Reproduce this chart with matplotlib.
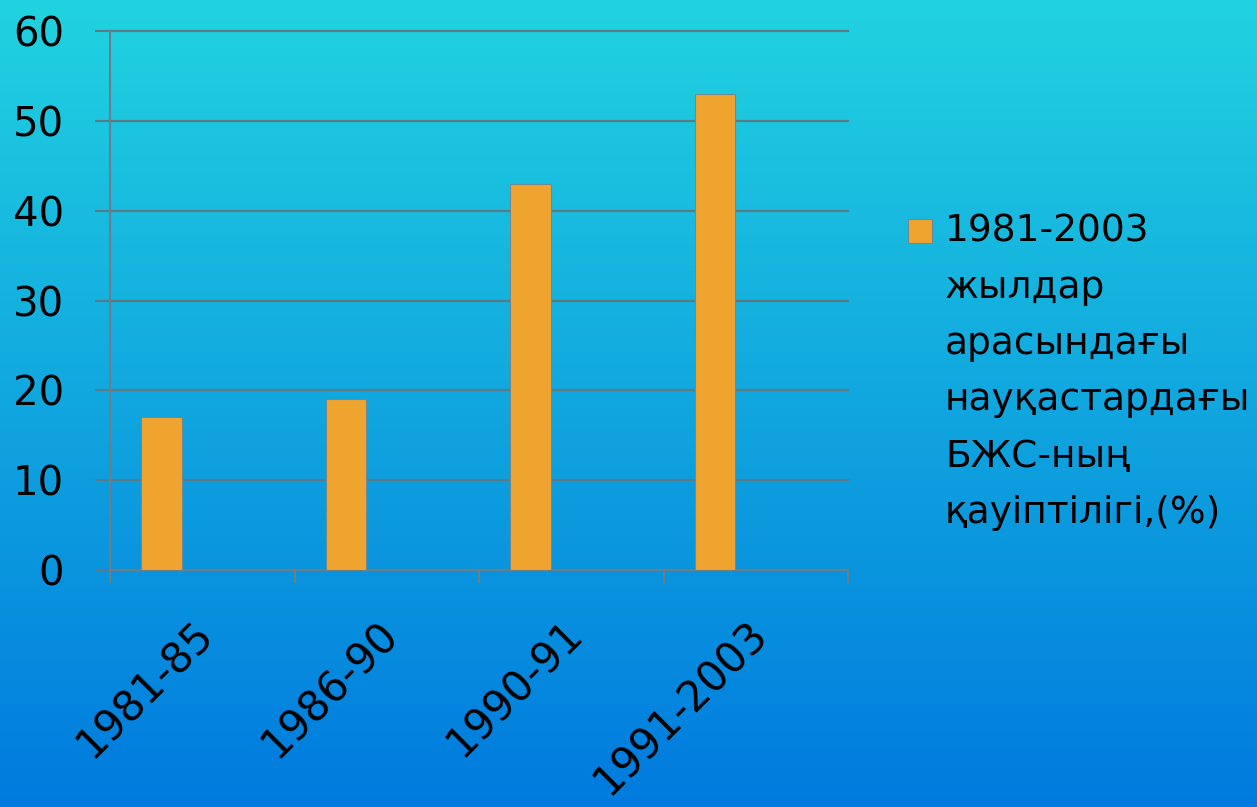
import matplotlib
matplotlib.use("Agg")
import matplotlib.pyplot as plt
import matplotlib.transforms as mtransforms
import numpy as np
from matplotlib.patches import Rectangle

# data
periods = ["1981-85", "1986-90", "1990-91", "1991-2003"]
risk_pct = [17, 19, 43, 53]
series_label = "1981-2003\nжылдар\nарасындағы\nнауқастардағы\nБЖС-ның\nқауіптілігі,(%)"

W, H = 1257, 807
fig = plt.figure(figsize=(W / 100, H / 100), dpi=100)
plt.rcParams['font.family'] = ['DejaVu Sans']

# gradient background (cyan at top -> blue at bottom)
bg = fig.add_axes([0, 0, 1, 1], zorder=-10)
top = np.array([33, 211, 224]) / 255
bottom = np.array([0, 122, 222]) / 255
t = np.linspace(0, 1, 256)[:, None]
grad = top * (1 - t) + bottom * t
bg.imshow(grad[:, None, :], aspect='auto', extent=[0, 1, 0, 1])
bg.axis('off')

ax = fig.add_axes([110 / W, 1 - 570 / H, (848 - 110) / W, (570 - 31) / H])
ax.set_facecolor('none')

x = np.arange(len(periods))
ax.bar(x - 0.22, risk_pct, width=0.22, color='#f0a430',
       edgecolor='#6f8a92', linewidth=0.8, zorder=3)

ax.set_xlim(-0.5, len(periods) - 0.5)
ax.set_ylim(0, 60)
ax.set_yticks(range(0, 61, 10))
ax.grid(axis='y', color='#5a7a84', linewidth=1.6, zorder=0)
ax.set_axisbelow(True)
for gl in ax.get_ygridlines():
    gl.set_clip_on(False)

for side in ['top', 'right']:
    ax.spines[side].set_visible(False)
for side in ['left', 'bottom']:
    ax.spines[side].set_color('#6a7f86')
    ax.spines[side].set_linewidth(1.5)

ax.tick_params(axis='y', length=11, width=1.5, color='#5a7a84',
               labelsize=29, pad=22)
ax.set_xticks(x)
ax.set_xticklabels(periods, rotation=45, ha='right', rotation_mode='anchor',
                   fontsize=30)
ax.tick_params(axis='x', which='major', length=0, pad=28)
shift = mtransforms.ScaledTranslation(-10 / 100, -4 / 100, fig.dpi_scale_trans)
for lbl in ax.get_xticklabels():
    lbl.set_transform(lbl.get_transform() + shift)
ax.set_xticks(np.arange(-0.5, len(periods)), minor=True)
ax.tick_params(axis='x', which='minor', length=9, width=1.5, color='#6a7f86')

# legend on the right
fig.patches.append(Rectangle((908 / W, 1 - 243 / H), 24 / W, 24 / H,
                             transform=fig.transFigure, facecolor='#f0a430',
                             edgecolor='#6f8a92', linewidth=0.8))
fig.text(945 / W, 1 - 214 / H, series_label, fontsize=27, va='top', ha='left',
         linespacing=1.72)

fig.savefig("out.png", dpi=100)
